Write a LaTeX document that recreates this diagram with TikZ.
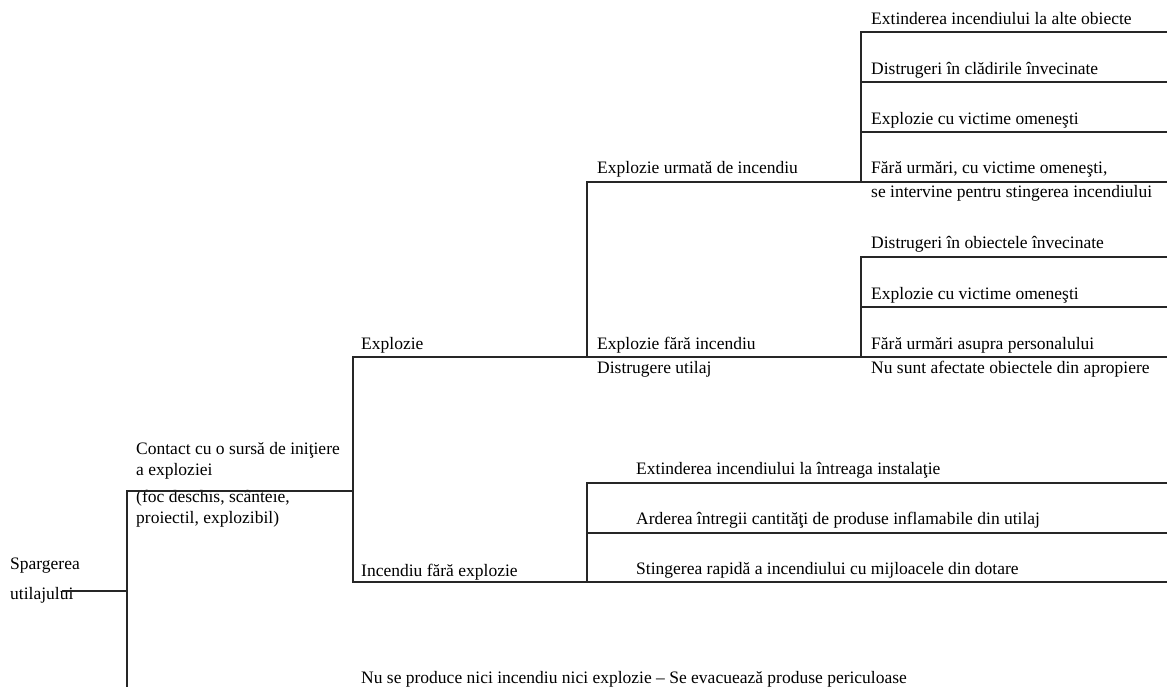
\documentclass[tikz,border=0pt]{standalone}
\usepackage{fontspec}
\setmainfont{Liberation Serif}
\begin{document}
\begin{tikzpicture}[x=1pt,y=-1pt,
  lbl/.style={anchor=base west, inner sep=0pt, font=\fontsize{17.5}{21}\selectfont},
  tree/.style={line width=1.1pt, black!85, line cap=rect}]
\useasboundingbox (0,0) rectangle (1167,687);

% ---- labels ----
\node[lbl] (a1)  at (871,25)  {Extinderea incendiului la alte obiecte};
\node[lbl] (a2)  at (871,75)  {Distrugeri în clădirile învecinate};
\node[lbl] (a3)  at (871,125) {Explozie cu victime omeneşti};
\node[lbl] (a4)  at (871,174) {Fără urmări, cu victime omeneşti,};
\node[lbl] (a4b) at (871,198) {se intervine pentru stingerea incendiului};
\node[lbl] (b1)  at (871,248) {Distrugeri în obiectele învecinate};
\node[lbl] (b2)  at (871,299) {Explozie cu victime omeneşti};
\node[lbl] (b3)  at (871,349) {Fără urmări asupra personalului};
\node[lbl] (b4)  at (871,373) {Nu sunt afectate obiectele din apropiere};
\node[lbl] (e1)  at (597,174) {Explozie urmată de incendiu};
\node[lbl] (e2)  at (597,349) {Explozie fără incendiu};
\node[lbl] (e2b) at (597,373) {Distrugere utilaj};
\node[lbl] (ex)  at (361,349) {Explozie};
\node[lbl] (in)  at (361,576) {Incendiu fără explozie};
\node[lbl] (c1)  at (636,474) {Extinderea incendiului la întreaga instalaţie};
\node[lbl] (c2)  at (636,524) {Arderea întregii cantităţi de produse inflamabile din utilaj};
\node[lbl] (c3)  at (636,574) {Stingerea rapidă a incendiului cu mijloacele din dotare};
\node[lbl] (ct1) at (136,454) {Contact cu o sursă de iniţiere};
\node[lbl] (ct2) at (136,475) {a exploziei};
\node[lbl] (ct3) at (136,502) {(foc deschis, scânteie,};
\node[lbl] (ct4) at (136,523) {proiectil, explozibil)};
\node[lbl] (r1)  at (10,569)  {Spargerea};
\node[lbl] (r2)  at (10,599)  {utilajului};
\node[lbl] (nn)  at (361,683) {Nu se produce nici incendiu nici explozie – Se evacuează produse periculoase};

% ---- junction points of the tree ----
\coordinate (rs) at (63,591);
\coordinate (j0) at (127,591);
\coordinate (j0t) at (127,491);
\coordinate (j0b) at (127,690);
\coordinate (j1t) at (353,491);
\coordinate (j1a) at (353,357);
\coordinate (j1b) at (353,582);
\coordinate (j2a) at (587,182);
\coordinate (j2b) at (587,357);
\coordinate (j3a) at (861,32);
\coordinate (j3b) at (861,182);
\coordinate (j4a) at (861,257);
\coordinate (j4b) at (861,357);
\coordinate (j5a) at (587,483);
\coordinate (j5b) at (587,582);
\coordinate (ea) at (1167,32);
\coordinate (eb) at (1167,82);
\coordinate (ec) at (1167,132);
\coordinate (ed) at (1167,182);
\coordinate (ee) at (1167,257);
\coordinate (ef) at (1167,307);
\coordinate (eg) at (1167,357);
\coordinate (eh) at (1167,483);
\coordinate (ei) at (1167,533);
\coordinate (ej) at (1167,582);

% ---- branches ----
\draw[tree] (rs) -- (j0);
\draw[tree] (j0b) -- (j0t) -- (j1t);
\draw[tree] (j1a) -- (j1b);
\draw[tree] (j1a) -- (eg);
\draw[tree] (j1b) -- (ej);
\draw[tree] (j2a) -- (j2b);
\draw[tree] (j2a) -- (ed);
\draw[tree] (j3a) -- (j3b);
\draw[tree] (j3a) -- (ea);
\draw[tree] (j3a |- eb) -- (eb);
\draw[tree] (j3a |- ec) -- (ec);
\draw[tree] (j4a) -- (j4b);
\draw[tree] (j4a) -- (ee);
\draw[tree] (j4a |- ef) -- (ef);
\draw[tree] (j5a) -- (j5b);
\draw[tree] (j5a) -- (eh);
\draw[tree] (j5a |- ei) -- (ei);
\end{tikzpicture}
\end{document}
